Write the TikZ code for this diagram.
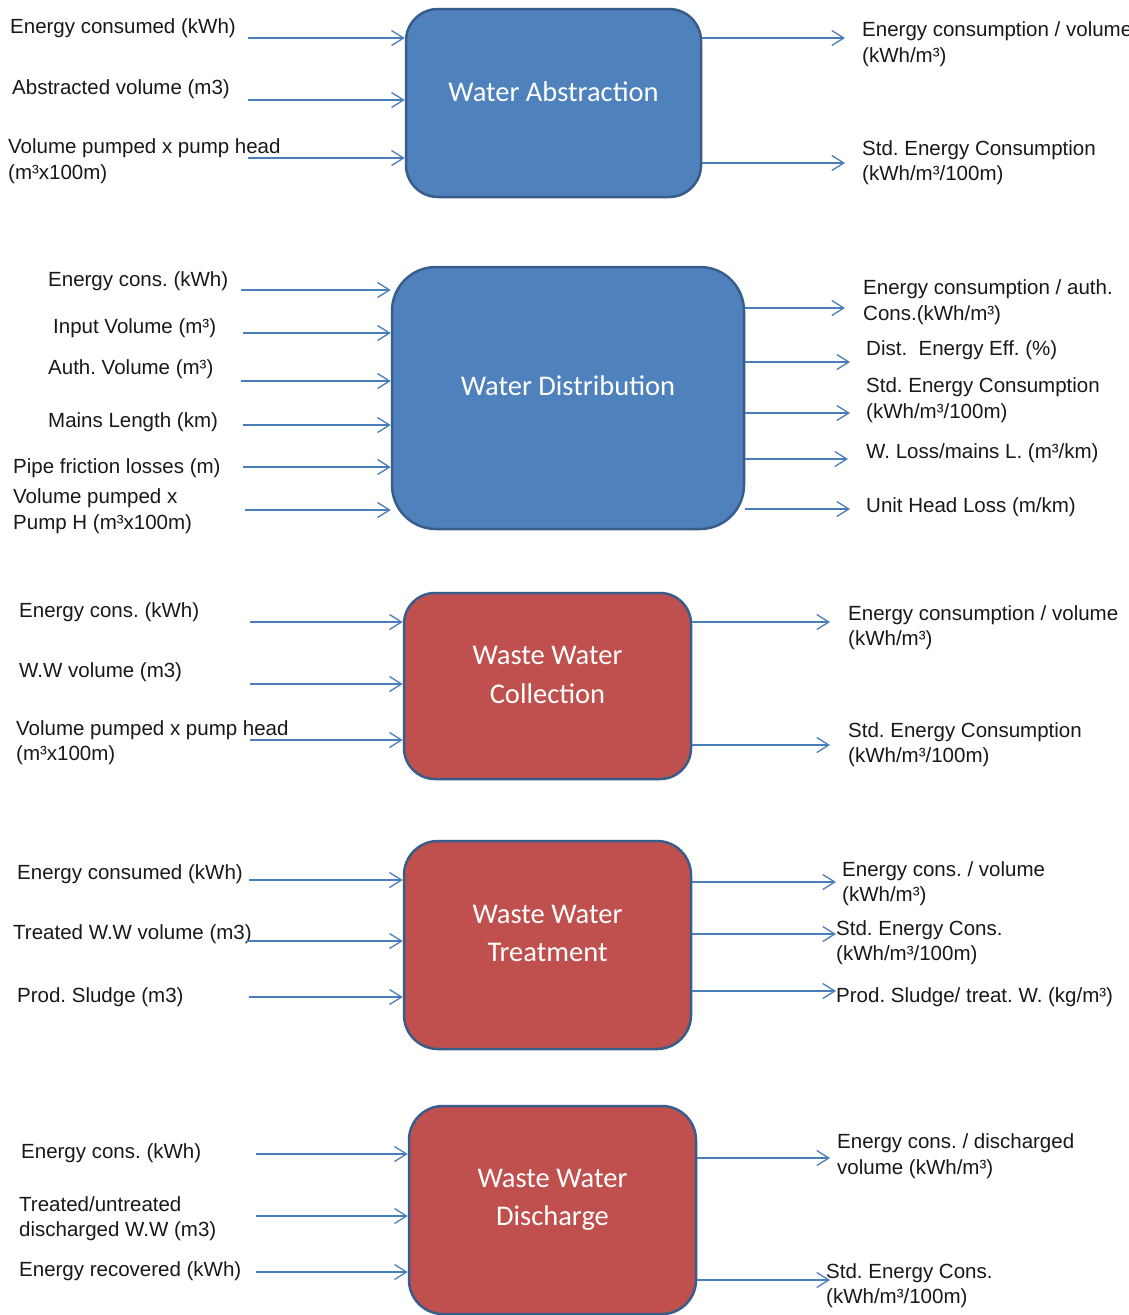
\documentclass[tikz,border=0pt]{standalone}
\usepackage{fontspec}
\setmainfont{Liberation Sans}
\newfontfamily\titlefont{Carlito}
\usetikzlibrary{arrows.meta, positioning}
\frenchspacing

\definecolor{boxblue}{HTML}{4F81BD}
\definecolor{boxred}{HTML}{C0504D}
\definecolor{boxedge}{HTML}{385D8A}
\definecolor{flowblue}{HTML}{4A7EBB}

\begin{document}
\begin{tikzpicture}[x=1pt, y=-1pt,
    stage/.style={draw=boxedge, line width=2.5pt, inner sep=0pt},
    boxtitle/.style={text=white, align=center, inner sep=0pt,
                     font=\titlefont\fontsize{28.5}{38.5}\selectfont},
    lbl/.style={anchor=west, align=left, inner sep=0pt, text=black!90, yshift=-1.5pt,
                font=\fontsize{20.5}{25.5}\selectfont},
    flow/.style={-{Straight Barb[length=12pt, width=15pt, line width=1.3pt]},
                 draw=flowblue, line width=1.3pt}
]
    \useasboundingbox[fill=white] (0,0) rectangle (1129,1315);

    % Water Abstraction
    \node[stage, fill=boxblue, minimum width=295pt, minimum height=188pt, rounded corners=32pt] (wa) at (553.5,103) {};
    \node[boxtitle] (wa-t) at ([yshift=11pt]wa.center) {Water Abstraction};
    \node[lbl] (wa-l1) at (10,27) {Energy consumed (kWh)};
    \node[lbl] (wa-l2) at (12,88) {Abstracted volume (m3)};
    \node[lbl] (wa-l3) at (8,159.5) {Volume pumped x pump head\\(m³x100m)};
    \node[lbl] (wa-r1) at (862,42.5) {Energy consumption / volume\\(kWh/m³)};
    \node[lbl] (wa-r2) at (862,161) {Std. Energy Consumption\\(kWh/m³/100m)};
    \coordinate (wa-i1) at (248,38);
    \coordinate (wa-i2) at (248,100);
    \coordinate (wa-i3) at (248,158);
    \coordinate (wa-o1) at (845,38);
    \coordinate (wa-o2) at (845,163);
    \draw[flow] (wa-i1) -- (wa-i1 -| wa.west);
    \draw[flow] (wa-i2) -- (wa-i2 -| wa.west);
    \draw[flow] (wa-i3) -- (wa-i3 -| wa.west);
    \draw[flow] (wa-o1 -| wa.east) -- (wa-o1);
    \draw[flow] (wa-o2 -| wa.east) -- (wa-o2);

    % Water Distribution
    \node[stage, fill=boxblue, minimum width=352pt, minimum height=262pt, rounded corners=44pt] (wd) at (568,398) {};
    \node[boxtitle] (wd-t) at ([yshift=12pt]wd.center) {Water Distribution};
    \node[lbl] (wd-l1) at (48,280) {Energy cons. (kWh)};
    \node[lbl] (wd-l2) at (53,327) {Input Volume (m³)};
    \node[lbl] (wd-l3) at (48,368) {Auth. Volume (m³)};
    \node[lbl] (wd-l4) at (48,421) {Mains Length (km)};
    \node[lbl] (wd-l5) at (13,467) {Pipe friction losses (m)};
    \node[lbl] (wd-l6) at (13,509.5) {Volume pumped x\\Pump H (m³x100m)};
    \node[lbl] (wd-r1) at (863,300.5) {Energy consumption / auth.\\Cons.(kWh/m³)};
    \node[lbl] (wd-r2) at (866,349) {Dist.\ \ Energy Eff. (\%)};
    \node[lbl] (wd-r3) at (866,398.5) {Std. Energy Consumption\\(kWh/m³/100m)};
    \node[lbl] (wd-r4) at (866,452) {W. Loss/mains L. (m³/km)};
    \node[lbl] (wd-r5) at (866,506) {Unit Head Loss (m/km)};
    \coordinate (wd-i1) at (241,290);
    \coordinate (wd-i2) at (243,333);
    \coordinate (wd-i3) at (241,381);
    \coordinate (wd-i4) at (243,425);
    \coordinate (wd-i5) at (243,467);
    \coordinate (wd-i6) at (245,510);
    \coordinate (wd-o1) at (845,308);
    \coordinate (wd-o2) at (850,362);
    \coordinate (wd-o3) at (850,413);
    \coordinate (wd-o4) at (848,459);
    \coordinate (wd-o5) at (850,509);
    \draw[flow] (wd-i1) -- (wd-i1 -| wd.west);
    \draw[flow] (wd-i2) -- (wd-i2 -| wd.west);
    \draw[flow] (wd-i3) -- (wd-i3 -| wd.west);
    \draw[flow] (wd-i4) -- (wd-i4 -| wd.west);
    \draw[flow] (wd-i5) -- (wd-i5 -| wd.west);
    \draw[flow] (wd-i6) -- (wd-i6 -| wd.west);
    \draw[flow] (wd-o1 -| wd.east) -- (wd-o1);
    \draw[flow] (wd-o2 -| wd.east) -- (wd-o2);
    \draw[flow] (wd-o3 -| wd.east) -- (wd-o3);
    \draw[flow] (wd-o4 -| wd.east) -- (wd-o4);
    \draw[flow] (wd-o5 -| wd.east) -- (wd-o5);

    % Waste Water Collection
    \node[stage, fill=boxred, minimum width=287pt, minimum height=186pt, rounded corners=31pt] (wc) at (547.5,686) {};
    \node[boxtitle] (wc-t) at ([yshift=11pt]wc.center) {Waste Water\\Collection};
    \node[lbl] (wc-l1) at (19,611) {Energy cons. (kWh)};
    \node[lbl] (wc-l2) at (19,671) {W.W volume (m3)};
    \node[lbl] (wc-l3) at (16,741) {Volume pumped x pump head\\(m³x100m)};
    \node[lbl] (wc-r1) at (848,626) {Energy consumption / volume\\(kWh/m³)};
    \node[lbl] (wc-r2) at (848,743) {Std. Energy Consumption\\(kWh/m³/100m)};
    \coordinate (wc-i1) at (250,622);
    \coordinate (wc-i2) at (250,684);
    \coordinate (wc-i3) at (250,740);
    \coordinate (wc-o1) at (830,622);
    \coordinate (wc-o2) at (830,745);
    \draw[flow] (wc-i1) -- (wc-i1 -| wc.west);
    \draw[flow] (wc-i2) -- (wc-i2 -| wc.west);
    \draw[flow] (wc-i3) -- (wc-i3 -| wc.west);
    \draw[flow] (wc-o1 -| wc.east) -- (wc-o1);
    \draw[flow] (wc-o2 -| wc.east) -- (wc-o2);

    % Waste Water Treatment
    \node[stage, fill=boxred, minimum width=287pt, minimum height=208pt, rounded corners=34pt] (wt) at (547.5,945) {};
    \node[boxtitle] (wt-t) at ([yshift=11.5pt]wt.center) {Waste Water\\Treatment};
    \node[lbl] (wt-l1) at (17,873) {Energy consumed (kWh)};
    \node[lbl] (wt-l2) at (13,933) {Treated W.W volume (m3)};
    \node[lbl] (wt-l3) at (17,996) {Prod. Sludge (m3)};
    \node[lbl] (wt-r1) at (842,882) {Energy cons. / volume\\(kWh/m³)};
    \node[lbl] (wt-r2) at (836,941) {Std. Energy Cons.\\(kWh/m³/100m)};
    \node[lbl] (wt-r3) at (836,996) {Prod. Sludge/ treat. W. (kg/m³)};
    \coordinate (wt-i1) at (249,880);
    \coordinate (wt-i2) at (247,941);
    \coordinate (wt-i3) at (249,997);
    \coordinate (wt-o1) at (836,882);
    \coordinate (wt-o2) at (836,934);
    \coordinate (wt-o3) at (836,991);
    \draw[flow] (wt-i1) -- (wt-i1 -| wt.west);
    \draw[flow] (wt-i2) -- (wt-i2 -| wt.west);
    \draw[flow] (wt-i3) -- (wt-i3 -| wt.west);
    \draw[flow] (wt-o1 -| wt.east) -- (wt-o1);
    \draw[flow] (wt-o2 -| wt.east) -- (wt-o2);
    \draw[flow] (wt-o3 -| wt.east) -- (wt-o3);

    % Waste Water Discharge
    \node[stage, fill=boxred, minimum width=287pt, minimum height=208pt, rounded corners=34pt] (wx) at (552.5,1210) {};
    \node[boxtitle] (wx-t) at ([yshift=10pt]wx.center) {Waste Water\\Discharge};
    \node[lbl] (wx-l1) at (21,1152) {Energy cons. (kWh)};
    \node[lbl] (wx-l2) at (19,1217) {Treated/untreated\\discharged W.W (m3)};
    \node[lbl] (wx-l3) at (19,1270) {Energy recovered (kWh)};
    \node[lbl] (wx-r1) at (837,1154.5) {Energy cons. / discharged\\volume (kWh/m³)};
    \node[lbl] (wx-r2) at (826,1284) {Std. Energy Cons.\\(kWh/m³/100m)};
    \coordinate (wx-i1) at (256,1154);
    \coordinate (wx-i2) at (256,1216);
    \coordinate (wx-i3) at (256,1272);
    \coordinate (wx-o1) at (830,1158);
    \coordinate (wx-o2) at (830,1280);
    \draw[flow] (wx-i1) -- (wx-i1 -| wx.west);
    \draw[flow] (wx-i2) -- (wx-i2 -| wx.west);
    \draw[flow] (wx-i3) -- (wx-i3 -| wx.west);
    \draw[flow] (wx-o1 -| wx.east) -- (wx-o1);
    \draw[flow] (wx-o2 -| wx.east) -- (wx-o2);
\end{tikzpicture}
\end{document}
